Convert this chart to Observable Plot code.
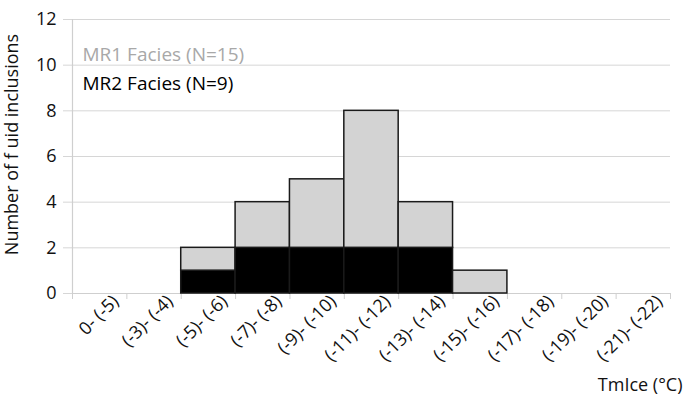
<!DOCTYPE html>
<html>
<head>
<meta charset="utf-8">
<script src="https://cdn.jsdelivr.net/npm/d3@7"></script>
<script src="https://cdn.jsdelivr.net/npm/@observablehq/plot@0.6"></script>
<style>
  html, body { margin: 0; padding: 0; background: #fff; }
  #chart { width: 684px; height: 406px; }
  #chart g[aria-label="x-axis tick label"], #chart g[aria-label="x-axis tick label"] text { font-size: 18px; }
  #chart g[aria-label="y-axis tick label"], #chart g[aria-label="y-axis tick label"] text { font-size: 18px; }
</style>
</head>
<body>
<div id="chart"></div>
<script>
const categories = ["0- (-5)", "(-3)- (-4)", "(-5)- (-6)", "(-7)- (-8)", "(-9)- (-10)", "(-11)- (-12)",
  "(-13)- (-14)", "(-15)- (-16)", "(-17)- (-18)", "(-19)- (-20)", "(-21)- (-22)"];
const mr2Values = [0, 0, 1, 2, 2, 2, 2, 0, 0, 0, 0];
const mr1Values = [0, 0, 1, 2, 3, 6, 2, 1, 0, 0, 0];
const seriesNames = ["MR2 Facies (N=9)", "MR1 Facies (N=15)"];
const yTicks = [0, 2, 4, 6, 8, 10, 12];
const xTitle = "TmIce (°C)";
const yTitle = "Number of f uid inclusions";

const rows = [];
categories.forEach((c, i) => {
  const a = mr2Values[i], b = mr1Values[i];
  if (a > 0) rows.push({i, series: "MR2", y1: 0, y2: a});
  if (b > 0) rows.push({i, series: "MR1", y1: a, y2: a + b});
});
const boundaries = d3.range(categories.length + 1);
const centers = categories.map((c, i) => i + 0.5);

const font = "'Open Sans', 'Noto Sans', sans-serif";
const chart = Plot.plot({
  width: 684,
  height: 406,
  marginLeft: 72,
  marginRight: 14,
  marginTop: 19,
  marginBottom: 113,
  style: {fontFamily: font, fontSize: "18px", color: "#111", background: "#fff", overflow: "visible"},
  x: {domain: [0, categories.length]},
  y: {domain: [0, 12]},
  color: {domain: ["MR1", "MR2"], range: ["#d3d3d3", "#000000"]},
  marks: [
    Plot.gridY(yTicks, {stroke: "#d6d6d6", strokeOpacity: 1, strokeWidth: 1}),
    Plot.axisY(yTicks, {tickSize: 9, stroke: "#d6d6d6", tickFormat: () => "", label: null}),
    Plot.ruleY([0], {stroke: "#cfcfcf", strokeWidth: 1.2}),
    Plot.ruleX([0], {stroke: "#cfcfcf", strokeWidth: 1.2}),
    Plot.axisX(boundaries, {tickSize: 6, stroke: "#cfcfcf", tickFormat: () => "", label: null}),
    Plot.axisX(centers, {
      tickSize: 0, tickRotate: -45, tickPadding: 5, dx: 16, fontSize: 18,
      tickFormat: (d) => categories[Math.round(d - 0.5)], label: null
    }),
    Plot.axisY(yTicks, {tickSize: 0, tickPadding: 16, fontSize: 18, label: null}),
    Plot.rectY(rows, {x1: "i", x2: (d) => d.i + 1, y1: "y1", y2: "y2", fill: "series",
      stroke: "#1a1a1a", strokeWidth: 1.5}),
    Plot.text([seriesNames[1]], {frameAnchor: "top-left", dx: 10, dy: 27.5, fill: "#a8a8a8",
      fontSize: 19, textAnchor: "start"}),
    Plot.text([seriesNames[0]], {frameAnchor: "top-left", dx: 10, dy: 57, fill: "#000",
      fontSize: 19, textAnchor: "start"}),
    Plot.text([xTitle], {frameAnchor: "bottom-right", dx: 12, dy: 97, fill: "#111",
      fontSize: 18, textAnchor: "end"}),
    Plot.text([yTitle], {frameAnchor: "left", dx: -60, dy: -12, rotate: -90, fill: "#111",
      fontSize: 18, textAnchor: "middle"})
  ]
});
document.getElementById("chart").appendChild(chart);
</script>
</body>
</html>
